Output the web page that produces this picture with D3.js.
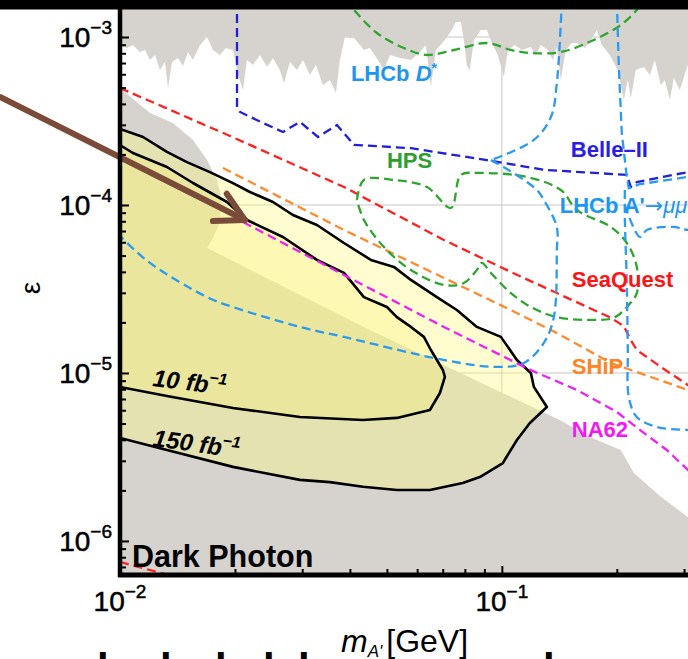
<!DOCTYPE html>
<html><head><meta charset="utf-8">
<script src="https://cdn.jsdelivr.net/npm/d3@7"></script>
<style>body{margin:0;background:#fff} svg{display:block} text{font-family:"Liberation Sans",Arial,sans-serif}</style>
</head><body><svg id="c" width="688" height="659"></svg>
<script>
// ---------- data (m in GeV, epsilon) ----------
const xDomain = [0.01, 0.3726];
const yDomain = [6.27e-7, 1.661e-3];
const xMajor = [0.01, 0.1];
const xMajorLabels = ["\u22122", "\u22121"];
const yMajor = [1e-6, 1e-5, 1e-4, 1e-3];
const yMajorLabels = ["\u22126", "\u22125", "\u22124", "\u22123"];

const topExcluded = [[0.0100,8.84e-4],[0.01043,8.60e-4],[0.01081,8.96e-4],[0.01128,8.14e-4],[0.01163,8.37e-4],[0.01198,7.30e-4],[0.01235,7.82e-4],[0.01273,6.36e-4],[0.01311,7.10e-4],[0.01336,4.97e-4],[0.01368,7.10e-4],[0.01418,7.50e-4],[0.01462,6.72e-4],[0.01507,8.14e-4],[0.01553,7.30e-4],[0.01620,8.96e-4],[0.01690,1.00e-3],[0.01752,8.37e-4],[0.01827,7.82e-4],[0.01894,8.60e-4],[0.01976,8.37e-4],[0.02037,5.94e-4],[0.02099,4.84e-4],[0.02150,7.30e-4],[0.02229,6.81e-4],[0.02325,7.82e-4],[0.02425,6.63e-4],[0.02515,7.50e-4],[0.02623,6.36e-4],[0.02687,5.32e-4],[0.02786,7.10e-4],[0.02906,6.36e-4],[0.03014,7.30e-4],[0.03143,5.94e-4],[0.03259,6.81e-4],[0.03400,5.18e-4],[0.03546,5.55e-4],[0.03677,4.64e-4],[0.03767,7.30e-4],[0.03882,1.00e-3],[0.04099,9.86e-4],[0.04249,8.96e-4],[0.04353,8.37e-4],[0.04513,8.60e-4],[0.04736,7.30e-4],[0.04911,6.36e-4],[0.05091,7.82e-4],[0.05408,7.50e-4],[0.05778,7.30e-4],[0.06100,8.14e-4],[0.06324,8.96e-4],[0.06518,5.04e-4],[0.06718,8.37e-4],[0.07092,9.60e-4],[0.07398,1.10e-3],[0.07577,1.23e-3],[0.07809,1.23e-3],[0.07951,9.60e-4],[0.08096,6.81e-4],[0.08245,6.36e-4],[0.08446,9.60e-4],[0.0881,1.10e-3],[0.09135,1.10e-3],[0.09471,8.96e-4],[0.09761,7.82e-4],[0.1012,5.78e-4],[0.1037,8.37e-4],[0.1081,8.96e-4],[0.1128,8.37e-4],[0.1191,8.72e-4],[0.1227,7.82e-4],[0.1265,8.96e-4],[0.1320,8.37e-4],[0.1360,7.30e-4],[0.1393,8.72e-4],[0.1427,5.55e-4],[0.1470,8.37e-4],[0.1525,9.21e-4],[0.1572,9.21e-4],[0.1649,8.60e-4],[0.1700,9.34e-4],[0.1773,1.10e-3],[0.1827,8.96e-4],[0.1917,7.82e-4],[0.2012,6.36e-4],[0.2086,4.22e-4],[0.2137,5.55e-4],[0.2176,4.34e-4],[0.2243,6.36e-4],[0.2354,6.63e-4],[0.2441,5.94e-4],[0.2515,7.30e-4],[0.2608,5.18e-4],[0.2671,5.55e-4],[0.2753,4.22e-4],[0.2821,5.70e-4],[0.2924,4.84e-4],[0.3069,6.81e-4],[0.3300,6.36e-4],[0.3726,6.0e-4]];

const beamDumpExcluded = [[0.0100,4.97e-4],[0.01198,3.53e-4],[0.01376,3.08e-4],[0.01553,2.44e-4],[0.01690,1.85e-4],[0.01795,1.41e-4],[0.01849,1.07e-4],[0.01816,7.60e-5],[0.01741,6.19e-5],[0.01690,5.55e-5],[0.04513,1.80e-5],[0.1418,5.25e-6],[0.1700,4.16e-6],[0.2049,3.48e-6],[0.2216,2.54e-6],[0.2608,1.83e-6],[0.3069,1.39e-6],[0.3726,1.09e-6],[0.3726,6.27e-7],[0.0100,6.27e-7]];

const reach150 = [[0.0100,2.835e-4],[0.01149,2.54e-4],[0.01327,2.07e-4],[0.01497,1.80e-4],[0.0172,1.57e-4],[0.01976,1.35e-4],[0.02189,1.195e-4],[0.02515,1.042e-4],[0.02837,8.72e-5],[0.03279,7.60e-5],[0.03859,5.94e-5],[0.0454,4.71e-5],[0.05215,4.28e-5],[0.05778,3.58e-5],[0.06758,2.83e-5],[0.07623,2.37e-5],[0.0860,1.88e-5],[0.0994,1.64e-5],[0.1095,1.195e-5],[0.1191,1.00e-5],[0.1213,8.26e-6],[0.1312,6.27e-6],[0.1184,5.04e-6],[0.1095,3.99e-6],[0.1006,2.91e-6],[0.08757,2.40e-6],[0.0790,2.21e-6],[0.06479,2.01e-6],[0.0531,2.01e-6],[0.04327,2.10e-6],[0.03546,2.24e-6],[0.02959,2.31e-6],[0.01976,2.76e-6],[0.01327,3.48e-6],[0.0100,4.10e-6]];

const reach10 = [[0.0100,2.276e-4],[0.01081,2.04e-4],[0.01198,1.853e-4],[0.01327,1.683e-4],[0.01553,1.352e-4],[0.01906,1.042e-4],[0.0215,8.14e-5],[0.02671,6.45e-5],[0.03279,4.71e-5],[0.03859,3.94e-5],[0.04353,2.83e-5],[0.0500,2.47e-5],[0.0531,2.15e-5],[0.05778,1.88e-5],[0.06249,1.64e-5],[0.06518,1.37e-5],[0.07007,1.042e-5],[0.07092,9.47e-6],[0.06882,7.60e-6],[0.06479,6.02e-6],[0.0531,5.40e-6],[0.04327,5.25e-6],[0.02959,5.47e-6],[0.01976,6.19e-6],[0.01327,7.30e-6],[0.0100,8.26e-6]];

const seaQuest = [[0.0100,4.97e-4],[0.01941,2.575e-4],[0.03859,1.28e-4],[0.0705,6.19e-5],[0.1056,3.99e-5],[0.1393,2.99e-5],[0.1929,2.13e-5],[0.2086,1.90e-5],[0.2176,1.57e-5],[0.2256,1.37e-5],[0.2608,1.086e-5],[0.3069,8.49e-6],[0.3726,6.54e-6]];
const seaQuestLow = [[0.0100,7.50e-7],[0.01436,6.00e-7]];
const ship = [[0.0186,1.661e-4],[0.03859,7.10e-5],[0.1056,2.37e-5],[0.1393,1.73e-5],[0.1929,1.147e-5],[0.3069,7.92e-6],[0.3726,6.72e-6]];
const na62 = [[0.02099,7.92e-5],[0.03859,3.83e-5],[0.0705,1.88e-5],[0.1191,1.04e-5],[0.1572,7.92e-6],[0.2000,5.86e-6],[0.2298,4.58e-6],[0.2703,3.48e-6],[0.3069,2.65e-6],[0.3726,1.88e-6]];
const hpsLoop = [[0.04173,1.071e-4],[0.04353,1.409e-4],[0.05215,1.409e-4],[0.06363,1.28e-4],[0.07354,9.60e-5],[0.07809,1.509e-4],[0.0860,1.551e-4],[0.1163,1.468e-4],[0.1427,1.228e-4],[0.1572,9.34e-5],[0.1929,7.40e-5],[0.2124,5.94e-5],[0.2256,4.28e-5],[0.2256,2.99e-5],[0.2124,2.47e-5],[0.1964,2.13e-5],[0.1741,2.07e-5],[0.1393,2.15e-5],[0.1191,2.47e-5],[0.1056,2.99e-5],[0.09358,3.94e-5],[0.08863,4.52e-5],[0.0860,4.10e-5],[0.07951,3.43e-5],[0.0705,3.34e-5],[0.05778,4.10e-5],[0.04911,5.62e-5],[0.04353,8.14e-5],[0.04173,1.071e-4]];
const hpsArc = [[0.03882,1.661e-3],[0.04099,1.448e-3],[0.04708,1.056e-3],[0.0554,8.60e-4],[0.06363,7.82e-4],[0.07487,8.37e-4],[0.09135,9.21e-4],[0.1056,8.37e-4],[0.1191,8.03e-4],[0.1427,8.14e-4],[0.1741,9.60e-4],[0.2049,1.179e-3],[0.2256,1.448e-3],[0.2367,1.661e-3]];
const belle2 = [[0.02025,1.661e-3],[0.02025,3.78e-4],[0.02062,3.58e-4],[0.02367,3.08e-4],[0.02671,2.72e-4],[0.02959,3.12e-4],[0.03299,2.54e-4],[0.0370,2.99e-4],[0.03859,2.68e-4],[0.04099,2.28e-4],[0.05778,2.18e-4],[0.09135,1.85e-4],[0.1288,1.62e-4],[0.2124,1.51e-4],[0.2176,1.28e-4],[0.2256,1.37e-4],[0.3069,1.57e-4],[0.3726,1.66e-4]];
const lhcbDstarTop = [[0.1436,1.661e-3],[0.1393,5.32e-4],[0.1344,3.34e-4],[0.1213,2.44e-4],[0.09358,1.85e-4]];
const lhcbDstarLow = [[0.09358,1.85e-4],[0.1012,1.68e-4],[0.1235,1.23e-4],[0.1288,1.07e-4],[0.1393,7.40e-5],[0.1393,5.40e-5],[0.1368,2.15e-5],[0.1288,1.51e-5],[0.1142,1.147e-5],[0.09703,1.086e-5],[0.0705,1.195e-5],[0.03859,1.64e-5],[0.02959,1.88e-5],[0.01976,2.47e-5],[0.0169,2.83e-5],[0.01198,4.52e-5],[0.01012,6.36e-5],[0.0100,6.54e-5]];
const lhcbMuA = [[0.2000,1.661e-3],[0.2024,6.63e-4],[0.2061,2.68e-4],[0.2124,1.47e-4],[0.2150,1.26e-4],[0.2298,1.33e-4],[0.3069,1.47e-4],[0.3726,1.57e-4]];
const lhcbMuB = [[0.2099,1.228e-4],[0.2099,8.48e-5],[0.2124,3.43e-5],[0.2137,1.37e-5],[0.2150,7.20e-6],[0.2256,5.47e-6],[0.2546,4.77e-6],[0.3069,4.58e-6],[0.3726,4.52e-6]];
const lhcbMuC = [[0.2099,1.00e-4],[0.2298,6.45e-5],[0.2397,7.10e-5],[0.2803,7.40e-5],[0.3069,7.10e-5],[0.3726,6.91e-5]];

const arrowFrom = [0.004852, 4.394e-4];
const arrowTo = [0.02124, 8.14e-5];

// ---------- scales ----------
const x = d3.scaleLog().domain(xDomain).range([120, 720]);
const y = d3.scaleLog().domain(yDomain).range([575, 0]);
const svg = d3.select("#c");
svg.append("rect").attr("width", 688).attr("height", 659).attr("fill", "#fff");
svg.append("defs").append("clipPath").attr("id", "clip")
  .append("rect").attr("x", 120).attr("y", 0).attr("width", 600).attr("height", 575);
const g = svg.append("g").attr("clip-path", "url(#clip)");

const line = d3.line().x(d => x(d[0])).y(d => y(d[1]));
const smooth = d3.line().x(d => x(d[0])).y(d => y(d[1])).curve(d3.curveCatmullRom.alpha(0.5));
const topArea = d3.area().x(d => x(d[0])).y0(y(yDomain[1])).y1(d => y(d[1]));

// grid
g.selectAll("line.gx").data(xMajor).join("line").attr("class", "gx")
  .attr("x1", d => x(d)).attr("x2", d => x(d)).attr("y1", 0).attr("y2", 575)
  .attr("stroke", "#c6c6c6").attr("stroke-width", 1);
g.selectAll("line.gy").data(yMajor).join("line").attr("class", "gy")
  .attr("y1", d => y(d)).attr("y2", d => y(d)).attr("x1", 120).attr("x2", 720)
  .attr("stroke", "#c6c6c6").attr("stroke-width", 1);

// excluded regions
const GRAY = "#d6d3cf";
g.append("path").attr("d", topArea(topExcluded)).attr("fill", GRAY);
g.append("path").attr("d", line(beamDumpExcluded) + "Z").attr("fill", GRAY);

// projected reach fills
g.append("path").attr("d", line(reach150) + "Z").attr("fill", "#fffa82").attr("fill-opacity", 0.38);
g.append("path").attr("d", line(reach10) + "Z").attr("fill", "#f8f26a").attr("fill-opacity", 0.27);
g.append("path").attr("d", line(reach150) + "Z").attr("fill", "none").attr("stroke", "#000").attr("stroke-width", 2.6).attr("stroke-linejoin", "round");
g.append("path").attr("d", line(reach10) + "Z").attr("fill", "none").attr("stroke", "#000").attr("stroke-width", 2.6).attr("stroke-linejoin", "round");

// dashed projections
const dashed = [
  {d: seaQuest, c: "#ff2020", s: false},
  {d: seaQuestLow, c: "#ff2020", s: false},
  {d: ship, c: "#ff8a2a", s: false},
  {d: na62, c: "#f020f0", s: false},
  {d: hpsLoop, c: "#2ea52e", s: true},
  {d: hpsArc, c: "#2ea52e", s: true},
  {d: belle2, c: "#1f1fdc", s: false},
  {d: lhcbDstarTop, c: "#2b9af0", s: true},
  {d: lhcbDstarLow, c: "#2b9af0", s: true},
  {d: lhcbMuA, c: "#2b9af0", s: false},
  {d: lhcbMuB, c: "#2b9af0", s: true},
  {d: lhcbMuC, c: "#2b9af0", s: true}
];
g.selectAll("path.dash").data(dashed).join("path").attr("class", "dash")
  .attr("d", o => (o.s ? smooth : line)(o.d))
  .attr("fill", "none").attr("stroke", o => o.c).attr("stroke-width", 2.3)
  .attr("stroke-dasharray", "9,5");

// labels (anchored in data coordinates)
function label(pos, parts, color, size, opts = {}) {
  const t = svg.append("text").attr("x", x(pos[0])).attr("y", y(pos[1]))
    .attr("fill", color).attr("font-size", size).attr("font-weight", opts.weight || "bold");
  if (opts.rotate) t.attr("transform", `rotate(${opts.rotate},${x(pos[0])},${y(pos[1])})`);
  parts.forEach(p => {
    const s = t.append("tspan").text(p.t);
    if (p.i) s.attr("font-style", "italic");
    if (p.w) s.attr("font-weight", p.w);
    if (p.fs) s.attr("font-size", p.fs);
    if (p.dy) s.attr("dy", p.dy);
    if (p.ff) s.attr("font-family", p.ff);
  });
  return t;
}
const BLUE_L = "#1e96f0";
label([0.04024, 5.47e-4], [{t: "LHCb "}, {t: "D", i: true}, {t: "*", fs: 14, dy: -8}], BLUE_L, 22);
label([0.1516, 1.93e-4], [{t: "Belle\u2013II"}], "#2a1ee6", 22);
label([0.0500, 1.661e-4], [{t: "HPS"}], "#2f9e2f", 22);
label([0.1418, 8.96e-5], [{t: "LHCb A'"}, {t: "\u2192", w: "normal", ff: "DejaVu Sans"}, {t: "\u03bc\u03bc", i: true, w: "normal"}], BLUE_L, 22);
label([0.1525, 3.25e-5], [{t: "SeaQuest"}], "#ff1414", 22);
label([0.1525, 9.87e-6], [{t: "SHiP"}], "#ff8424", 22);
label([0.1525, 4.16e-6], [{t: "NA62"}], "#f516f5", 22);
label([0.01213, 8.37e-6], [{t: "10 fb", i: true}, {t: "\u22121", i: true, fs: 16, dy: -10}], "#000", 24, {rotate: 7});
label([0.01213, 3.68e-6], [{t: "150 fb", i: true}, {t: "\u22121", i: true, fs: 16, dy: -10}], "#000", 24, {rotate: 8});
label([0.01075, 7.00e-7], [{t: "Dark Photon"}], "#000", 30.5);

// arrow
const a0 = [x(arrowFrom[0]), y(arrowFrom[1])], a1 = [x(arrowTo[0]), y(arrowTo[1])];
const ang = Math.atan2(a1[1] - a0[1], a1[0] - a0[0]);
const arrowG = svg.append("g").attr("stroke", "#7b4b3a").attr("stroke-width", 6).attr("stroke-linecap", "round").attr("fill", "none");
arrowG.append("line").attr("x1", a0[0]).attr("y1", a0[1]).attr("x2", a1[0]).attr("y2", a1[1]);
[0.5, -0.5].forEach(da => {
  arrowG.append("line").attr("x1", a1[0]).attr("y1", a1[1])
    .attr("x2", a1[0] - 32 * Math.cos(ang + da)).attr("y2", a1[1] - 32 * Math.sin(ang + da));
});

// axes
const yMinor = [], xMinor = [];
for (let e = -7; e <= -3; e++) for (let k = 2; k <= 9; k++) { const v = k * Math.pow(10, e); if (v > yDomain[0] && v < yDomain[1]) yMinor.push(v); }
for (let e = -2; e <= -1; e++) for (let k = 2; k <= 9; k++) { const v = k * Math.pow(10, e); if (v < xDomain[1]) xMinor.push(v); }
const axG = svg.append("g");
function tickStyle(sel) { sel.select(".domain").remove(); sel.selectAll("line").attr("stroke", "#000").attr("stroke-width", 2); }
axG.append("g").attr("transform", "translate(120,0)").call(d3.axisLeft(y).tickValues(yMinor).tickSize(-6).tickFormat("")).call(tickStyle);
axG.append("g").attr("transform", "translate(120,0)").call(d3.axisLeft(y).tickValues(yMajor).tickSize(-9).tickFormat("")).call(tickStyle);
axG.append("g").attr("transform", "translate(0,575)").call(d3.axisBottom(x).tickValues(xMinor).tickSize(-6).tickFormat("")).call(tickStyle);
axG.append("g").attr("transform", "translate(0,575)").call(d3.axisBottom(x).tickValues(xMajor).tickSize(-9).tickFormat("")).call(tickStyle);
axG.append("line").attr("x1", 120).attr("x2", 120).attr("y1", 0).attr("y2", 577).attr("stroke", "#000").attr("stroke-width", 4.5);
axG.append("line").attr("x1", 118).attr("x2", 688).attr("y1", 575).attr("y2", 575).attr("stroke", "#000").attr("stroke-width", 5);

function tickLabel(tx, ty, anchor, sup) {
  const t = svg.append("text").attr("x", tx).attr("y", ty).attr("text-anchor", anchor)
    .attr("fill", "#000").attr("stroke", "#000").attr("stroke-width", 0.5);
  t.append("tspan").text("10").attr("font-size", 28);
  t.append("tspan").text(sup).attr("font-size", 19).attr("dy", -13);
}
yMajor.forEach((v, i) => tickLabel(112, y(v) + 10, "end", yMajorLabels[i]));
xMajor.forEach((v, i) => tickLabel(x(v), 611, "middle", xMajorLabels[i]));

svg.append("text").attr("transform", "translate(30,288) rotate(-90)").attr("text-anchor", "middle")
  .attr("dominant-baseline", "central").attr("font-size", 28).text("\u03b5");
const xt = svg.append("text").attr("x", 341).attr("y", 652).attr("fill", "#000");
xt.append("tspan").text("m").attr("font-style", "italic").attr("font-size", 32);
xt.append("tspan").text("A'").attr("font-style", "italic").attr("font-size", 17).attr("dy", 5);
xt.append("tspan").text("[GeV]").attr("font-size", 32).attr("dy", -5).attr("dx", 4);

// tops of the next (cropped) line of slide text
const nextLine = svg.append("text").attr("y", 683).attr("font-size", 42).attr("font-weight", "bold").attr("fill", "#000");
[97, 160, 215, 263, 298, 543].forEach(px => nextLine.append("tspan").attr("x", px).text("l"));

// top black band
svg.append("rect").attr("x", 0).attr("y", 0).attr("width", 688).attr("height", 9.5).attr("fill", "#000");
</script></body></html>
